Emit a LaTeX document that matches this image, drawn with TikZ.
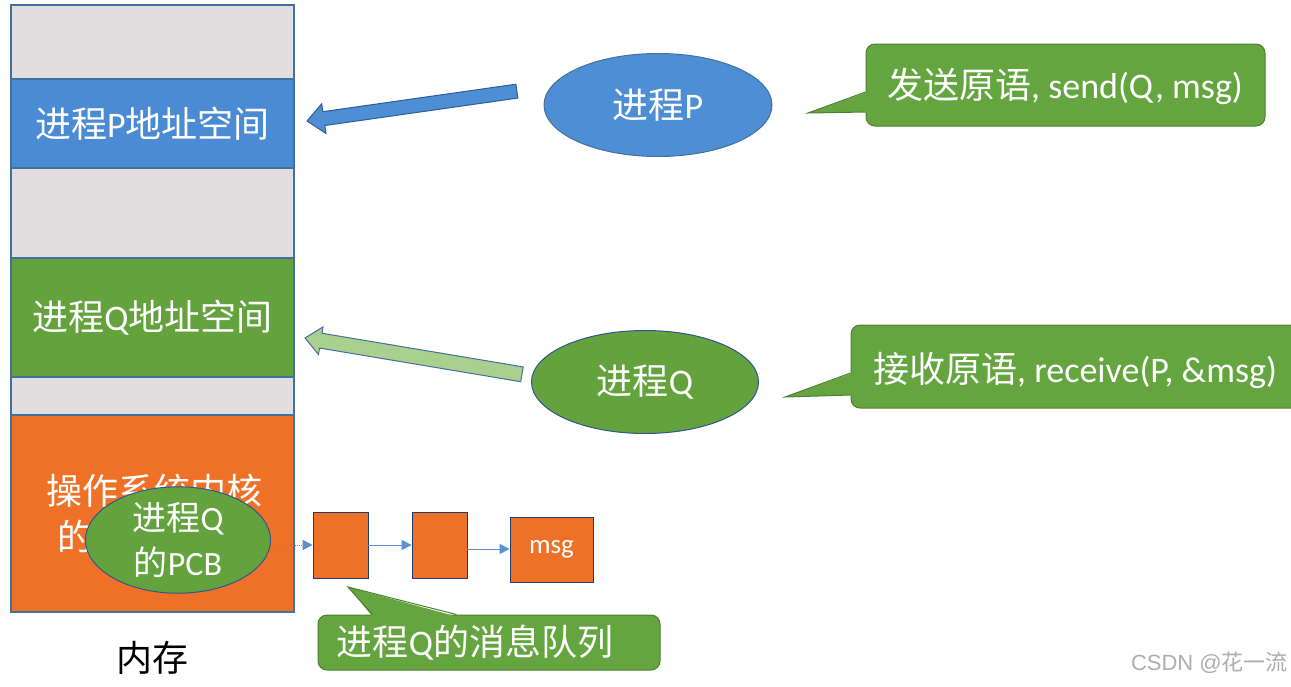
\documentclass[tikz,border=0pt]{standalone}
\usepackage{fontspec}
\setmainfont{Carlito}
\newfontfamily\cjk{Noto Sans CJK SC}
\newfontfamily\wmfont{Liberation Sans}
\usetikzlibrary{shapes.geometric,arrows.meta,calc}
\newcommand\zh[1]{{\cjk #1}}
\definecolor{segGray}{HTML}{E0DEDF}
\definecolor{segBlue}{HTML}{4A8BD3}
\definecolor{segGreen}{HTML}{64A23E}
\definecolor{segOrange}{HTML}{EE7127}
\definecolor{lineBlue}{HTML}{41719C}
\definecolor{darkBlue}{HTML}{2F5597}
\definecolor{callGreen}{HTML}{65A53F}
\definecolor{callEdge}{HTML}{4E7F2F}
\definecolor{arrowBlue}{HTML}{4E8ED5}
\definecolor{arrowBlueEdge}{HTML}{2E5E96}
\definecolor{arrowGreen}{HTML}{A9D08E}
\definecolor{qBlue}{HTML}{5B8FD0}
\tikzset{
  memseg/.style={draw=lineBlue, line width=1.2pt, minimum width=283pt, inner sep=0pt, outer sep=0pt, text=white},
  big/.style={font=\fontsize{36}{42}\selectfont},
  proc/.style={ellipse, draw=darkBlue, line width=1pt, text=white, inner sep=0pt, big},
  callbox/.style={draw=callEdge, fill=callGreen, line width=1pt, rounded corners=9pt, inner sep=0pt},
  calltext/.style={text=white, big, inner sep=0pt},
  qbox/.style={draw=darkBlue!70!black, fill=segOrange, line width=0.8pt, inner sep=0pt, text=white},
  qarrow/.style={draw=qBlue, line width=1pt, -{Triangle[length=10pt,width=10pt]}},
  blockarrow/.style={line width=1pt, line join=miter}
}
\begin{document}
\begin{tikzpicture}[x=1pt,y=-1pt]
\useasboundingbox (0,0) rectangle (1291,686);
\clip (0,0) rectangle (1291,686);

% memory column
\node[memseg, fill=segGray, minimum height=74pt] (m0) at (152.5,42) {};
\node[memseg, fill=segBlue, minimum height=89pt, big] (mP) at (152.5,123.5) {\zh{进程}P\zh{地址空间}};
\node[memseg, fill=segGray, minimum height=90pt] (m2) at (152.5,213) {};
\node[memseg, fill=segGreen, minimum height=119pt, big] (mQ) at (152.5,317.5) {\zh{进程}Q\zh{地址空间}};
\node[memseg, fill=segGray, minimum height=38pt] (m4) at (152.5,396) {};
\node[memseg, fill=segOrange, minimum height=197pt] (mK) at (152.5,513.5) {};
\node[text=white, big, inner sep=0pt] (k1) at (154,491) {\zh{操作系统内核}};
\node[text=white, big, inner sep=0pt, anchor=west] (k2) at (57,536) {\zh{的}};
\node[big, inner sep=0pt] (mem) at (152,658) {\zh{内存}};

% process ellipses
\node[proc, fill=arrowBlue, draw=lineBlue, minimum width=228pt, minimum height=103pt] (P) at (658,105) {\zh{进程}P};
\node[proc, fill=segGreen, minimum width=227pt, minimum height=103pt] (Q) at (645,382) {\zh{进程}Q};

% block arrow P
\coordinate (aPtip) at (307,121);
\begin{scope}[shift={(aPtip)}, rotate=8.1]
  \draw[blockarrow, fill=arrowBlue, draw=arrowBlueEdge]
    (0,0) -- (17,-15) -- (17,-7) -- (212,-7) -- (212,7) -- (17,7) -- (17,15) -- cycle;
\end{scope}
% block arrow Q
\coordinate (aQtip) at (305,338);
\begin{scope}[shift={(aQtip)}, rotate=-9.5]
  \draw[blockarrow, fill=arrowGreen, draw=lineBlue]
    (0,0) -- (16,-14) -- (16,-7.5) -- (220,-7.5) -- (220,7.5) -- (16,7.5) -- (16,14) -- cycle;
\end{scope}

% callout P
\node[callbox, minimum width=399pt, minimum height=82pt] (cP) at (1065.5,85) {};
\coordinate (cPtip) at (808,113);
\fill[callGreen] ($(cP.west)+(2,7)$) -- (cPtip) -- ($(cP.west)+(2,27)$) -- cycle;
\draw[callEdge, line width=1pt, line join=miter] ($(cP.west)+(0,7)$) -- (cPtip) -- ($(cP.west)+(0,27)$);
\node[calltext] (tP) at (1065,86) {\zh{发送原语}, send(Q, msg)};

% callout Q
\node[callbox, minimum width=459pt, minimum height=83pt] (cQ) at (1080.5,366.5) {};
\coordinate (cQtip) at (785,397);
\fill[callGreen] ($(cQ.west)+(2,6.5)$) -- (cQtip) -- ($(cQ.west)+(2,28.5)$) -- cycle;
\draw[callEdge, line width=1pt, line join=miter] ($(cQ.west)+(0,6.5)$) -- (cQtip) -- ($(cQ.west)+(0,28.5)$);
\node[calltext] (tQ) at (1075,370) {\zh{接收原语}, receive(P, \&msg)};

% PCB ellipse
\node[proc, fill=segGreen, minimum width=185pt, minimum height=100pt, align=center, font=\fontsize{34}{45}\selectfont] (pcb) at (178,540) {\zh{进程}Q\\\zh{的}PCB};

% queue
\node[qbox, minimum width=55pt, minimum height=66pt] (b1) at (340.5,545) {};
\node[qbox, minimum width=55pt, minimum height=66pt] (b2) at (439.5,545) {};
\node[qbox, minimum width=83pt, minimum height=65pt, font=\fontsize{27}{30}\selectfont] (b3) at (551.5,549.5) {msg};
\draw[qarrow, densely dotted] (pcb.east |- b1.west) -- (b1.west);
\draw[qarrow] (b1.east) -- (b2.west);
\draw[qarrow] ($(b2.east)+(0,4)$) -- ($(b2.east -| b3.west)+(0,4)$);

% queue callout
\node[callbox, minimum width=342pt, minimum height=55pt] (cM) at (489,642.5) {};
\coordinate (cMtip) at (348,587);
\fill[callGreen] ($(cM.north west)+(55,2)$) -- (cMtip) -- ($(cM.north west)+(139,2)$) -- cycle;
\draw[callEdge, line width=1pt, line join=miter] ($(cM.north west)+(55,0)$) -- (cMtip) -- ($(cM.north west)+(139,0)$);
\node[calltext] (tM) at (475,643) {\zh{进程}Q\zh{的消息队列}};

% watermark
\node[text=black!32, font=\wmfont\fontsize{22}{24}\selectfont, inner sep=0pt, anchor=east] (wm) at (1288,663) {CSDN @\zh{花一流}};
\end{tikzpicture}
\end{document}
